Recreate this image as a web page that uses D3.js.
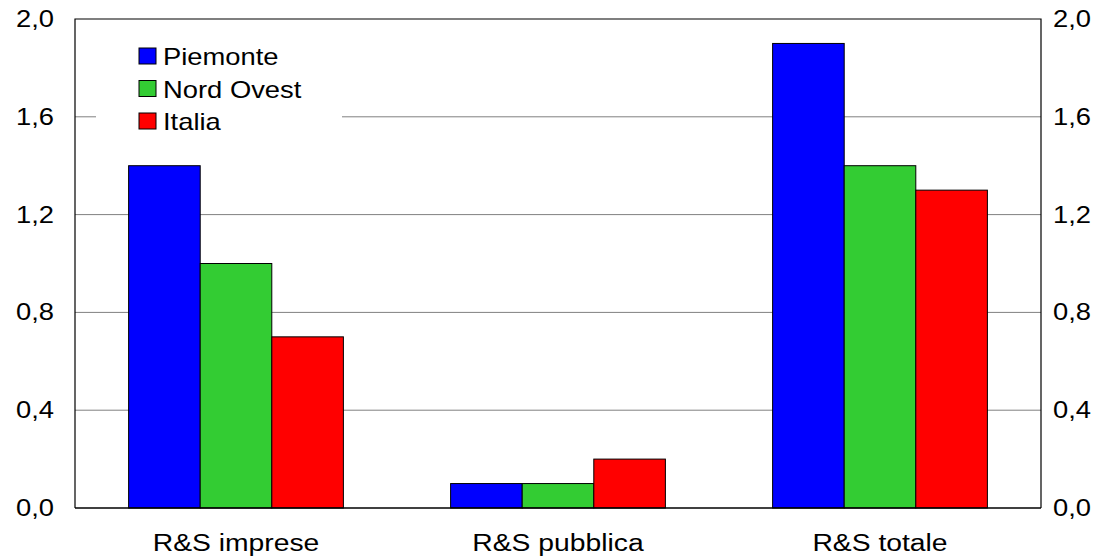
<!DOCTYPE html>
<html lang="it">
<head>
<meta charset="UTF-8">
<title>R&S</title>
<script src="https://cdnjs.cloudflare.com/ajax/libs/d3/7.8.5/d3.min.js"></script>
<style>
  body { margin: 0; background: #fff; }
  text { font-family: "Liberation Sans", Arial, sans-serif; fill: #000; }
</style>
</head>
<body>
<div id="chart"></div>
<script>
// dati
const categories = ["R&S imprese", "R&S pubblica", "R&S totale"];
const seriesNames = ["Piemonte", "Nord Ovest", "Italia"];
const piemonte = [1.4, 0.1, 1.9];
const nordOvest = [1.0, 0.1, 1.4];
const italia = [0.7, 0.2, 1.3];
const tickValues = [0, 0.4, 0.8, 1.2, 1.6, 2.0];
const colors = ["#0000ff", "#33cc33", "#ff0000"];

const width = 1102, height = 557;
const margin = { top: 19, right: 61, bottom: 49, left: 75 };
const fs = 23; // testo largo come nell'originale

const svg = d3.select("#chart").append("svg")
    .attr("width", width)
    .attr("height", height);

const x0 = d3.scaleBand().domain(categories)
    .range([margin.left, width - margin.right])
    .paddingInner(0.333).paddingOuter(0.1665);
const x1 = d3.scaleBand().domain(seriesNames).range([0, x0.bandwidth()]);
const y = d3.scaleLinear().domain([0, 2]).range([height - margin.bottom, margin.top]);

const fmt = d => d3.format(".1f")(d).replace(".", ",");

function label(g, x, yy, txt, anchor, sx) {
  return g.append("text")
    .attr("transform", `translate(${x},${yy}) scale(${sx},1)`)
    .attr("text-anchor", anchor)
    .attr("font-size", fs)
    .text(txt);
}

// griglia
svg.append("g").selectAll("line")
    .data(tickValues.filter(d => d > 0 && d < 2))
    .join("line")
    .attr("x1", margin.left).attr("x2", width - margin.right)
    .attr("y1", d => y(d)).attr("y2", d => y(d))
    .attr("stroke", "#808080").attr("stroke-width", 1);

// barre
const rows = categories.map((c, i) => ({ cat: c, vals: [piemonte[i], nordOvest[i], italia[i]] }));
svg.append("g").selectAll("g")
    .data(rows).join("g")
    .attr("transform", d => `translate(${x0(d.cat)},0)`)
    .selectAll("rect")
    .data(d => d.vals.map((v, j) => ({ name: seriesNames[j], v, j })))
    .join("rect")
    .attr("x", d => x1(d.name))
    .attr("y", d => y(d.v))
    .attr("width", x1.bandwidth())
    .attr("height", d => y(0) - y(d.v))
    .attr("fill", d => colors[d.j])
    .attr("stroke", "#000").attr("stroke-width", 1);

// cornice
svg.append("path")
    .attr("d", `M${margin.left},${y(0)}V${margin.top}H${width - margin.right}V${y(0)}`)
    .attr("fill", "none").attr("stroke", "#000").attr("stroke-width", 1.2);
svg.append("line")
    .attr("x1", margin.left).attr("x2", width - margin.right)
    .attr("y1", y(0)).attr("y2", y(0))
    .attr("stroke", "#000").attr("stroke-width", 1.5);

// etichette assi
const ticksG = svg.append("g");
tickValues.forEach(t => {
  label(ticksG, margin.left - 21, y(t) + 8, fmt(t), "end", 1.19);
  label(ticksG, width - margin.right + 12, y(t) + 8, fmt(t), "start", 1.19);
});

const catG = svg.append("g");
categories.forEach(c => label(catG, x0(c) + x0.bandwidth() / 2, 551, c, "middle", 1.23));

// legenda
const legend = svg.append("g").attr("transform", "translate(96,36)");
legend.append("rect").attr("width", 246).attr("height", 104).attr("fill", "#fff");
seriesNames.forEach((name, i) => {
  const it = legend.append("g").attr("transform", `translate(43,${12 + i * 32.5})`);
  it.append("rect").attr("width", 17).attr("height", 16)
    .attr("fill", colors[i]).attr("stroke", "#000").attr("stroke-width", 1);
  label(it, 24, 17, name, "start", 1.19);
});
</script>
</body>
</html>
